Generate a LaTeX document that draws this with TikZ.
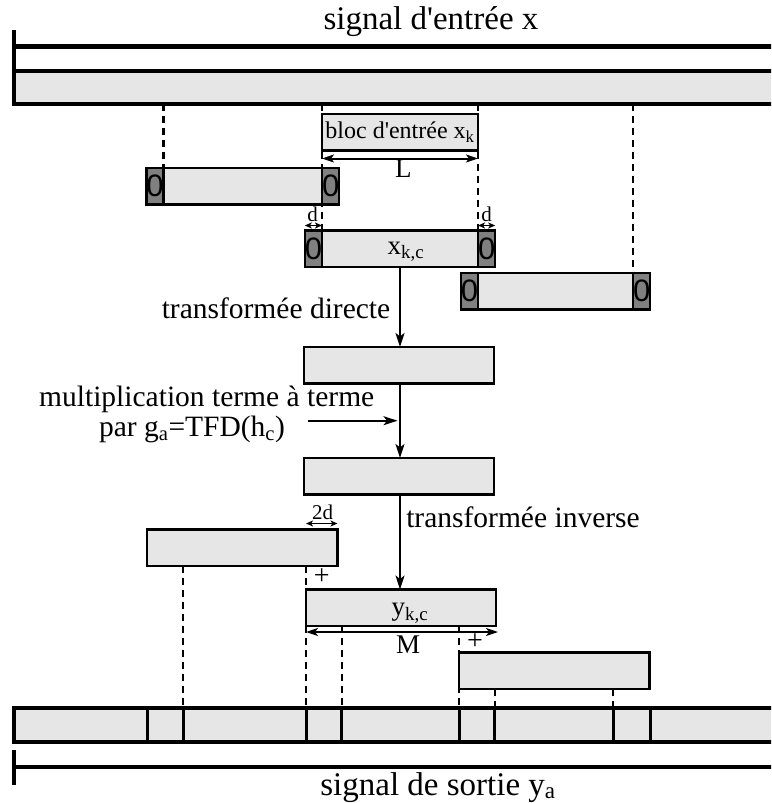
\documentclass[tikz,border=0pt]{standalone}
\usepackage{fontspec}
\setmainfont{Liberation Serif}[Ligatures=TeXOff]
\newfontfamily\zerofont{Liberation Sans}
\usetikzlibrary{arrows.meta,backgrounds}
\definecolor{fillg}{HTML}{E6E6E6}
\definecolor{padg}{HTML}{808080}
\tikzset{
  blk/.style={draw, fill=fillg, line width=2.5pt, inner sep=0pt, outer sep=0pt, minimum height=36.5pt},
  pad/.style={draw, fill=padg, line width=2.5pt, inner sep=0pt, outer sep=0pt, minimum width=16pt, minimum height=36.5pt, font=\zerofont\fontsize{31}{31}\selectfont},
  bar/.style={draw, fill=fillg, line width=4pt, inner sep=0pt, outer sep=0pt},
  dsh/.style={line width=2.2pt, dash pattern=on 7pt off 5pt},
  arr/.style={line width=2pt, -{Stealth[length=14pt,width=9pt,inset=3.5pt]}},
  darr/.style={line width=2pt, {Stealth[length=12pt,width=8pt,inset=3pt]}-{Stealth[length=12pt,width=8pt,inset=3pt]}},
  sarr/.style={line width=1.8pt, {Stealth[length=7pt,width=6pt,inset=1.8pt]}-{Stealth[length=7pt,width=6pt,inset=1.8pt]}},
  big/.style={inner sep=0pt, anchor=base, font=\fontsize{33}{38}\selectfont},
  lbl/.style={inner sep=0pt, anchor=base, font=\fontsize{29.5}{34}\selectfont},
  mid/.style={inner sep=0pt, anchor=base, font=\fontsize{27}{30}\selectfont},
  sml/.style={inner sep=0pt, anchor=base, font=\fontsize{21}{24}\selectfont},
  plus/.style={inner sep=0pt, font=\fontsize{28}{30}\selectfont},
}
\begin{document}
\begin{tikzpicture}[x=1pt,y=-1pt]
\useasboundingbox (0,0) rectangle (771,803);
\clip (0,0) rectangle (771,803);

% input signal
\node[big] (tin) at (431,29.5) {signal d'entrée x};
\coordinate (inL) at (13.5,46.5);
\coordinate (inR) at (800,46.5);
\draw[line width=4.5pt] (inL) -- (inR);
\draw[line width=4pt] (13.5,30) -- (13.5,72);
\node[bar, minimum width=800pt, minimum height=33.5pt, anchor=north west] (inbar) at (13.5,70.5) {};

% input block
\node[blk, minimum width=156pt, anchor=north west, font=\fontsize{24}{27}\selectfont] (xk) at (322,114) {bloc d'entrée x\textsubscript{k}};
\draw[darr] ([yshift=-8pt]xk.south west) -- ([yshift=-8pt]xk.south east);
\node[mid] (tL) at (403.3,177.5) {L};

% left padded block
\node[blk, minimum width=158.5pt, anchor=north west] (lb) at (163.5,168) {};
\node[pad, anchor=north east] (lbp1) at (lb.north west) {0};
\node[pad, anchor=north west] (lbp2) at (lb.north east) {0};

% middle padded block
\node[blk, minimum width=156pt, anchor=north west] (xkc) at (322,230.5) {};
\node[pad, anchor=north east] (xp1) at (xkc.north west) {0};
\node[pad, anchor=north west] (xp2) at (xkc.north east) {0};
\node[mid] (xkct) at (406,254) {x\textsubscript{k,c}};
\draw[sarr] ([yshift=5pt]xp1.north west) -- ([yshift=5pt]xp1.north east);
\draw[sarr] ([yshift=5pt]xp2.north west) -- ([yshift=5pt]xp2.north east);
\node[sml] (td1) at (312.7,221) {d};
\node[sml] (td2) at (486.5,221) {d};

% right padded block
\node[blk, minimum width=155pt, anchor=north west] (rbm) at (478,273) {};
\node[pad, anchor=north east] (rbp1) at (rbm.north west) {0};
\node[pad, anchor=north west] (rbp2) at (rbm.north east) {0};

% processing boxes
\node[blk, minimum width=190pt, anchor=north west] (b2) at (304,347) {};
\node[blk, minimum width=190pt, anchor=north west] (b3) at (304,458) {};
\node[lbl] (tdir) at (276,318.3) {transformée directe};
\node[lbl] (tmul1) at (206.7,406.5) {multiplication terme à terme};
\node[lbl] (tmul2) at (192,436.5) {par g\textsubscript{a}=TFD(h\textsubscript{c})};
\node[lbl] (tinv) at (523,527) {transformée inverse};

\draw[arr] (xkc.south) -- (xkc.south |- b2.north);
\draw[arr] (b2.south -| xkc.south) -- (xkc.south |- b3.north);
\coordinate (ha) at (308,420.7);
\coordinate (hb) at (397.5,420.7);
\draw[arr] (ha) -- (hb);

% output blocks
\node[blk, minimum width=190.5pt, anchor=north west] (lo) at (147,529.5) {};
\node[blk, minimum width=190pt, anchor=north west] (yb) at (306,589.5) {};
\node[blk, minimum width=190.5pt, anchor=north west] (ro) at (459,652.5) {};
\node[mid] (ybt) at (410,615.5) {y\textsubscript{k,c}};
\draw[arr] (b3.south -| xkc.south) -- (xkc.south |- yb.north);

\coordinate (t2a) at ([yshift=6pt]lo.north east);
\draw[sarr] (t2a -| yb.north west) -- (t2a);
\node[sml] (t2d) at (322.5,519.5) {2d};
\node[plus] (pl1) at (321.7,577) {+};
\node[plus] (pl2) at (475,642) {+};
\draw[darr] ([yshift=-6pt]yb.south west) -- ([yshift=-6pt,xshift=2pt]yb.south east);
\node[mid] (tM) at (408,653) {M};

% output signal
\node[bar, minimum width=800pt, minimum height=34.6pt, anchor=north west] (outbar) at (13.5,707.7) {};
\foreach \xx in {147.7,183.3,306,341.7,459,494.6,613,650}
  \draw[line width=3pt] (\xx,0 |- outbar.north) -- (\xx,0 |- outbar.south);
\draw[line width=4.5pt] (13.5,767) -- (800,767);
\draw[line width=4pt] (13.5,750) -- (13.5,785);
\node[big] (tout) at (438,795) {signal de sortie y\textsubscript{a}};

% dashed guide lines
\begin{scope}[on background layer]
\draw[dsh] (lb.north west |- inbar.south) -- (lb.north west);
\draw[dsh] (xkc.north west |- inbar.south) -- (xkc.north west);
\draw[dsh] (xkc.north east |- inbar.south) -- (rbm.north west);
\draw[dsh] (rbm.north east |- inbar.south) -- (rbm.north east);
\draw[dsh] (183.3,0 |- lo.south) -- (183.3,0 |- outbar.north);
\draw[dsh] (yb.north west |- lo.south) -- (yb.north west |- outbar.north);
\draw[dsh] (341.7,0 |- yb.south) -- (341.7,0 |- outbar.north);
\draw[dsh] (ro.north west |- yb.south) -- (ro.north west |- outbar.north);
\draw[dsh] (494.6,0 |- ro.south) -- (494.6,0 |- outbar.north);
\draw[dsh] (613,0 |- ro.south) -- (613,0 |- outbar.north);
\end{scope}
\end{tikzpicture}
\end{document}
